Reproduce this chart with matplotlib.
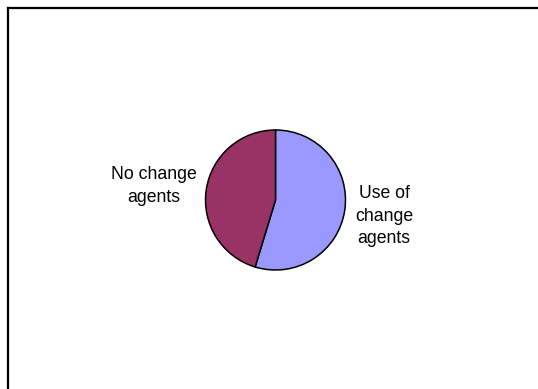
import matplotlib.pyplot as plt
from matplotlib.lines import Line2D

plt.rcParams['font.family'] = ['Liberation Sans', 'DejaVu Sans']

labels = ['Use of\nchange\nagents', 'No change\nagents']
shares = [54.7, 45.3]
colors = ['#9999FF', '#993366']

W, H = 538, 389
fig = plt.figure(figsize=(W / 100, H / 100), dpi=100)
ax = fig.add_axes([0, 0, 1, 1])

cx, cy, r = 275.5, H - 200, 70
ax.pie(shares, colors=colors, startangle=90, counterclock=False,
       center=(cx, cy), radius=r, frame=True,
       wedgeprops=dict(edgecolor='black', linewidth=1.1))
ax.set_xlim(0, W)
ax.set_ylim(0, H)
ax.set_aspect('equal')
ax.axis('off')

ax.text(384, H - 216, labels[0], ha='center', va='center', fontsize=12.7, linespacing=1.42)
ax.text(154, H - 186, labels[1], ha='center', va='center', fontsize=12.7, linespacing=1.42)

# chart area border (right and bottom sides fall outside the image)
fig.add_artist(Line2D([7.5 / W, 7.5 / W], [0, 1 - 8 / H], color='black', lw=1.6, transform=fig.transFigure))
fig.add_artist(Line2D([7.5 / W, 1], [1 - 8 / H, 1 - 8 / H], color='black', lw=1.6, transform=fig.transFigure))

fig.savefig('out.png', dpi=100)
